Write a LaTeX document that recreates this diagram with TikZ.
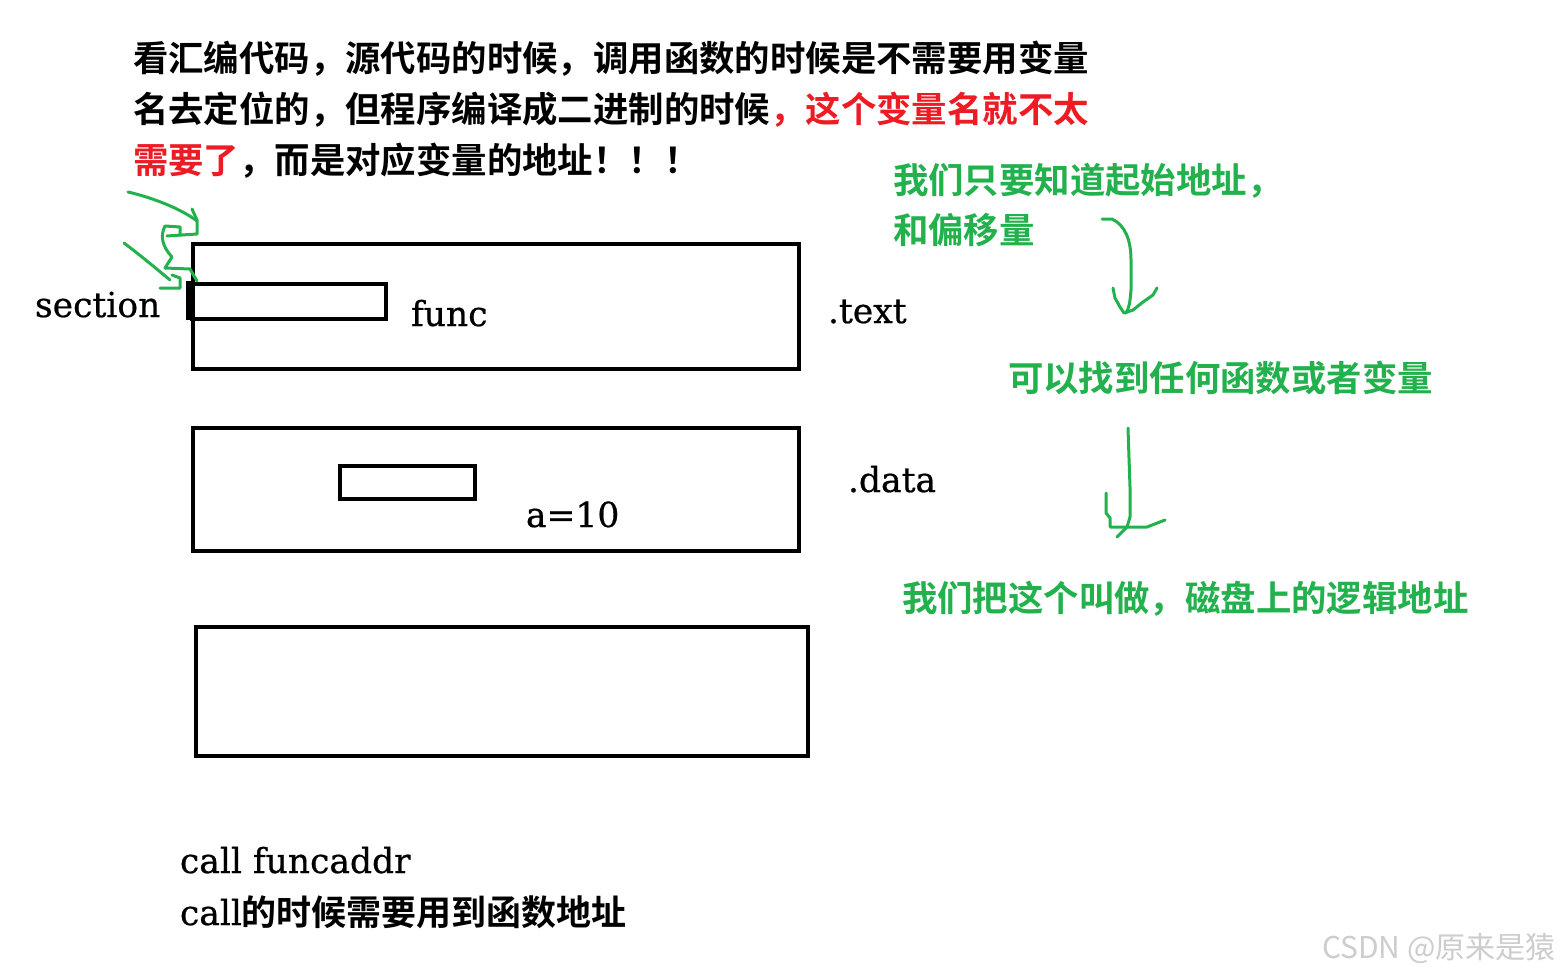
\documentclass[tikz,border=0pt]{standalone}
\usepackage{fontspec}
\newfontfamily\cjk{Noto Sans CJK SC Bold}
\newfontfamily\lat[FakeBold=0.6]{DejaVu Serif}
\newfontfamily\wm{Noto Sans CJK SC}
\definecolor{pgreen}{RGB}{34,177,76}
\definecolor{pred}{RGB}{237,28,36}
\definecolor{wmgray}{RGB}{205,205,205}
\begin{document}
\begin{tikzpicture}[x=1pt,y=-1pt,
  txt/.style={anchor=base west,inner sep=0pt,outer sep=0pt},
  cn/.style={txt,font=\cjk\fontsize{35.4}{35.4}\selectfont},
  la/.style={txt,font=\lat\fontsize{34.5}{34.5}\selectfont},
  seg/.style={draw=black,line width=4pt},
  hand/.style={draw=pgreen,line width=3pt,line cap=round,line join=round}]
\useasboundingbox[fill=white] (0,0) rectangle (1560,974);
% top text
\node[cn] (l1) at (133,71) {看汇编代码，源代码的时候，调用函数的时候是不需要用变量};
\node[cn] (l2) at (133,122) {名去定位的，但程序编译成二进制的时候\textcolor{pred}{，这个变量名就不太}};
\node[cn] (l3) at (133,173) {\textcolor{pred}{需要了}，而是对应变量的地址！！！};
% boxes
\node[seg,minimum width=606pt,minimum height=125pt,inner sep=0pt] (text) at (496,306.5) {};
\node[seg,minimum width=194pt,minimum height=35pt,inner sep=0pt] (funcbox) at (289,301.5) {};
\draw[line width=8pt] (funcbox.north west) ++(0,-1) -- ++(0,39);
\node[seg,minimum width=606pt,minimum height=123pt,inner sep=0pt] (data) at (496,489) {};
\node[seg,minimum width=135pt,minimum height=33pt,inner sep=0pt] (abox) at (407,482) {};
\node[seg,minimum width=612pt,minimum height=129pt,inner sep=0pt] (third) at (501.5,691) {};
% labels
\node[la] (sec) at (35,317) {section};
\node[la] (fn) at (411,326) {func};
\node[la] (tx) at (828,323) {.text};
\node[la] (dt) at (848,492) {.data};
\node[la] (a10) at (526,527) {a=10};
\node[la] (c1) at (180,873) {call funcaddr};
\node[txt] (c2) at (180,925) {{\lat\fontsize{34.5}{34.5}\selectfont call}{\cjk\fontsize{35}{35}\selectfont 的时候需要用到函数地址}};
% green texts
\node[cn,text=pgreen] (g1) at (893,193) {我们只要知道起始地址，};
\node[cn,text=pgreen] (g2) at (893,243) {和偏移量};
\node[cn,text=pgreen] (g3) at (1008,391) {可以找到任何函数或者变量};
\node[cn,text=pgreen] (g4) at (902,611) {我们把这个叫做，磁盘上的逻辑地址};
% hand-drawn green marks near section
\draw[hand] (128,192) .. controls (150,197) and (180,208) .. (197,221);
\draw[hand] (192,209) -- (197,220) -- (197,234) -- (167,236);
\draw[hand] (180,235) -- (180,227) -- (165,226) .. controls (160,236) and (162,246) .. (172,257) -- (165,268) -- (190,269) -- (197,281);
\draw[hand] (124,243) .. controls (140,255) and (158,270) .. (170,280);
\draw[hand] (172,275) -- (180,278) -- (180,288) -- (160,288);
% right green arrows
\draw[hand] (1102,219) -- (1112,219) .. controls (1125,225) and (1131,240) .. (1131,260) -- (1131,290) .. controls (1130,303) and (1129,308) .. (1126,313);
\draw[hand] (1113,288) -- (1115,298) -- (1120,307) -- (1124,313) -- (1133,310) -- (1143,302) -- (1153,295) -- (1157,288);
\draw[hand] (1128,428) -- (1129,458) -- (1130,487) -- (1130,517) -- (1127,527) -- (1117,537);
\draw[hand] (1106,493) -- (1106,513) -- (1110,518) -- (1110,527) -- (1147,527) -- (1165,520);
% watermark
\node[txt,text=wmgray,font=\wm\fontsize{30}{30}\selectfont] (wm) at (1322,958) {CSDN @原来是猿};
\end{tikzpicture}
\end{document}
